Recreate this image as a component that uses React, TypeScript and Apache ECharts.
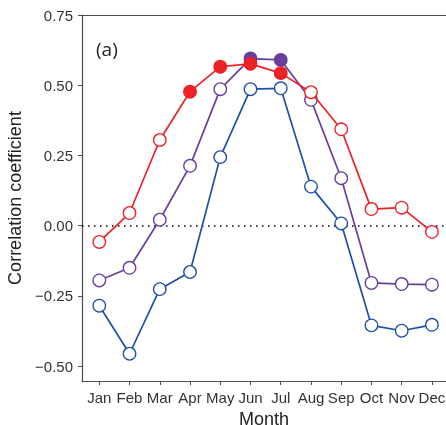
import React, { useEffect, useRef } from "react";
import * as echarts from "echarts";

const months = ["Jan", "Feb", "Mar", "Apr", "May", "Jun", "Jul", "Aug", "Sep", "Oct", "Nov", "Dec"];
const yTicks = [-0.5, -0.25, 0, 0.25, 0.5, 0.75];

const redValues = [-0.058, 0.045, 0.305, 0.477, 0.566, 0.576, 0.543, 0.475, 0.343, 0.059, 0.064, -0.022];
const redFilled = [false, false, false, true, true, true, true, false, false, false, false, false];
const purpleValues = [-0.195, -0.15, 0.021, 0.213, 0.486, 0.595, 0.59, 0.448, 0.169, -0.204, -0.208, -0.21];
const purpleFilled = [false, false, false, false, false, true, true, false, false, false, false, false];
const blueValues = [-0.285, -0.456, -0.226, -0.165, 0.244, 0.486, 0.489, 0.139, 0.008, -0.355, -0.374, -0.353];
const blueFilled = [false, false, false, false, false, false, false, false, false, false, false, false];

const RED = "#EC2227";
const PURPLE = "#6A3E9B";
const BLUE = "#1F4FA6";

function makeSeries(name: string, values: number[], filled: boolean[], color: string, z: number) {
  return {
    name,
    type: "line",
    z,
    symbol: "circle",
    symbolSize: 12.5,
    lineStyle: { color, width: 1.7 },
    itemStyle: { color: "#ffffff", borderColor: color, borderWidth: 1.3 },
    data: values.map((v, i) => ({
      value: [i + 1, v],
      itemStyle: filled[i] ? { color, borderColor: color } : undefined,
    })),
  };
}

export default function App() {
  const ref = useRef<HTMLDivElement>(null);
  useEffect(() => {
    if (!ref.current) return;
    const chart = echarts.init(ref.current, null, { renderer: "svg" });
    const axisColor = "#4d4d4d";
    const font = "Liberation Sans";
    chart.setOption({
      animation: false,
      grid: { left: 82, top: 15, right: 0, bottom: 44, outerBoundsMode: "none", containLabel: false },
      graphic: [
        {
          type: "text",
          x: 96,
          y: 49,
          style: { text: "(a)", font: "19px 'Open Sans'", fill: "#222", verticalAlign: "middle" },
        },
      ],
      xAxis: [
        {
          type: "value",
          min: 0.428,
          max: 12.465,
          position: "bottom",
          axisLine: { show: true, onZero: false, lineStyle: { color: axisColor, width: 1.2 } },
          axisTick: { show: true, customValues: months.map((_, i) => i + 1), length: 4, lineStyle: { color: axisColor } },
          axisLabel: {
            customValues: months.map((_, i) => i + 1),
            formatter: (v: number) => months[Math.round(v) - 1] ?? "",
            fontFamily: font,
            fontSize: 15,
            color: "#333",
            margin: 9,
          },
          splitLine: { show: false },
          name: "Month",
          nameLocation: "middle",
          nameGap: 20,
          nameTextStyle: { fontFamily: font, fontSize: 18, color: "#222" },
        },
        {
          type: "value",
          min: 0.428,
          max: 12.465,
          position: "top",
          axisLine: { show: true, onZero: false, lineStyle: { color: axisColor, width: 1.2 } },
          axisTick: { show: false },
          axisLabel: { show: false },
          splitLine: { show: false },
        },
      ],
      yAxis: {
        type: "value",
        min: -0.553,
        max: 0.75,
        axisLine: { show: true, onZero: false, lineStyle: { color: axisColor, width: 1.2 } },
        axisTick: { show: true, customValues: yTicks, length: 4, lineStyle: { color: axisColor } },
        axisLabel: {
          customValues: yTicks,
          formatter: (v: number) => (v < 0 ? "\u2212" : "") + Math.abs(v).toFixed(2),
          fontFamily: font,
          fontSize: 15,
          color: "#333",
          margin: 9,
        },
        splitLine: { show: false },
        name: "Correlation coefficient",
        nameLocation: "middle",
        nameGap: 47,
        nameTextStyle: { fontFamily: font, fontSize: 18, color: "#222" },
      },
      series: [
        {
          ...makeSeries("blue", blueValues, blueFilled, BLUE, 2),
          markLine: {
            silent: true,
            symbol: "none",
            label: { show: false },
            lineStyle: { color: "#000", type: [1.5, 4.5], width: 1.5 },
            data: [{ yAxis: 0 }],
            z: 1,
          },
        },
        makeSeries("purple", purpleValues, purpleFilled, PURPLE, 3),
        makeSeries("red", redValues, redFilled, RED, 4),
      ],
    });
    return () => chart.dispose();
  }, []);
  return <div ref={ref} style={{ position: "fixed", left: 0, top: 0, width: 446, height: 425 }} />;
}
